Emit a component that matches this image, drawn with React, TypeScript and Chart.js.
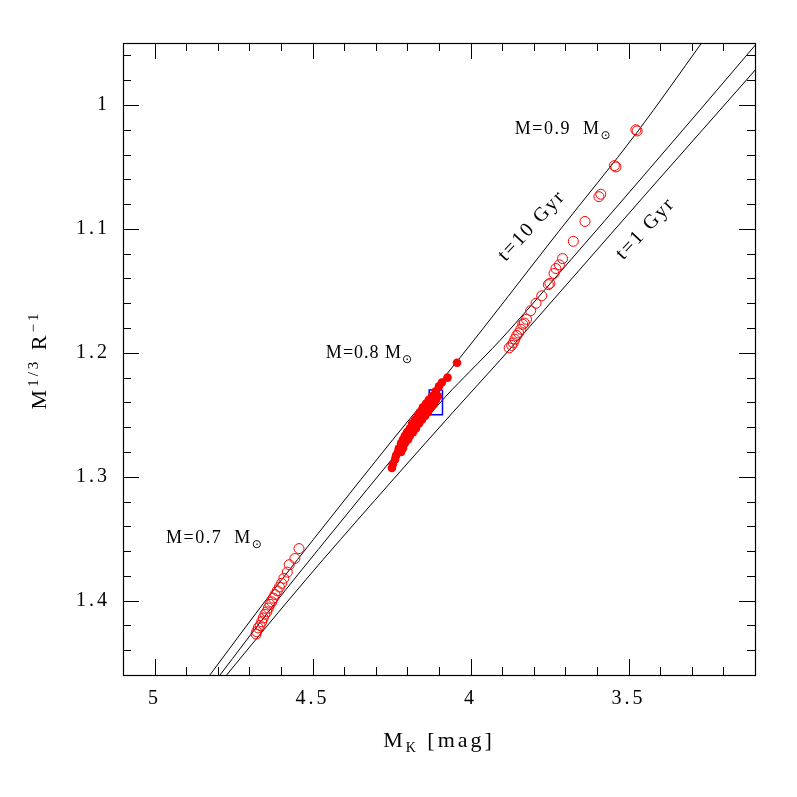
import React, { useEffect, useRef } from "react";
import { Chart, registerables } from "chart.js";
Chart.register(...registerables);

// ---------- data ----------
const xTickValues = [5, 4.5, 4, 3.5];
const yTickValues = [1, 1.1, 1.2, 1.3, 1.4];

// isochrone t = 10 Gyr
const iso10MK = [3.238, 3.269, 3.473, 3.721, 4.043, 4.246, 4.449, 4.646, 4.825, 4.86];
const iso10Y = [0.939, 0.95, 1.022, 1.102, 1.207, 1.27, 1.335, 1.399, 1.46, 1.472];

// intermediate isochrone
const isoMidMK = [3.067, 3.1, 3.432, 3.717, 3.907, 4.002, 4.078, 4.223, 4.432, 4.634, 4.793, 4.829];
const isoMidY = [0.942, 0.952, 1.051, 1.135, 1.19, 1.215, 1.235, 1.278, 1.343, 1.407, 1.46, 1.472];

// isochrone t = 1 Gyr
const iso1MK = [3.015, 3.1, 3.432, 3.717, 3.907, 4.056, 4.303, 4.521, 4.772, 4.81];
const iso1Y = [0.947, 0.972, 1.068, 1.151, 1.206, 1.248, 1.319, 1.383, 1.46, 1.472];

// filled red points
const filledMK = [4.043, 4.073, 4.091, 4.1, 4.11, 4.122, 4.103, 4.132, 4.11, 4.141, 4.116, 4.151, 4.125, 4.16, 4.135, 4.167, 4.144, 4.176, 4.154, 4.185, 4.163, 4.192, 4.173, 4.201, 4.182, 4.208, 4.192, 4.214, 4.198, 4.22, 4.208, 4.227, 4.214, 4.23, 4.22, 4.236, 4.239, 4.246, 4.249];
const filledY = [1.208, 1.22, 1.224, 1.227, 1.231, 1.235, 1.235, 1.238, 1.238, 1.241, 1.241, 1.244, 1.244, 1.248, 1.248, 1.251, 1.251, 1.254, 1.254, 1.257, 1.257, 1.261, 1.261, 1.264, 1.264, 1.267, 1.267, 1.27, 1.27, 1.273, 1.273, 1.277, 1.277, 1.28, 1.28, 1.283, 1.286, 1.29, 1.293];

// open red circles, upper group (near 0.9 Msun)
const openUpMK = [3.473, 3.477, 3.54, 3.545, 3.588, 3.594, 3.638, 3.675, 3.709, 3.719, 3.73, 3.736, 3.749, 3.754, 3.775, 3.793, 3.81, 3.823, 3.83, 3.835, 3.841, 3.848, 3.854, 3.86, 3.865, 3.87, 3.878];
const openUpY = [1.021, 1.02, 1.05, 1.049, 1.072, 1.074, 1.094, 1.11, 1.124, 1.129, 1.132, 1.136, 1.144, 1.145, 1.154, 1.16, 1.166, 1.173, 1.176, 1.177, 1.181, 1.184, 1.186, 1.189, 1.192, 1.194, 1.196];

// open red circles, lower group (near 0.7 Msun)
const openLowMK = [4.543, 4.556, 4.574, 4.58, 4.591, 4.598, 4.605, 4.612, 4.619, 4.624, 4.629, 4.635, 4.64, 4.645, 4.651, 4.656, 4.661, 4.666, 4.672, 4.677, 4.679];
const openLowY = [1.358, 1.366, 1.371, 1.377, 1.382, 1.386, 1.389, 1.392, 1.395, 1.398, 1.401, 1.403, 1.406, 1.409, 1.411, 1.414, 1.417, 1.42, 1.422, 1.425, 1.427];

// blue box
const boxMK = [4.089, 4.131];
const boxY = [1.23, 1.25];

// text labels: [text, MK, Y, letter spacing]
const massLabels: [string, number, number, number][] = [
  ["M=0.9  M", 3.86, 1.0184, 1.5],
  ["M=0.8 M", 4.458, 1.1991, 1],
  ["M=0.7  M", 4.964, 1.3485, 1.5],
];
const ageLabels: [string, number, number][] = [
  ["t=10 Gyr", 3.806, 1.0975],
  ["t=1 Gyr", 3.446, 1.0999],
];

const toPts = (xs: number[], ys: number[]) => xs.map((x, i) => ({ x, y: ys[i] }));

const SERIF = "'Liberation Serif', 'DejaVu Serif', serif";

function drawParts(ctx: CanvasRenderingContext2D, parts: { t: string; size: number; dy: number; font?: string }[], x: number, y: number, center: boolean) {
  let total = 0;
  for (const p of parts) {
    ctx.font = `${p.size}px ${p.font || SERIF}`;
    total += ctx.measureText(p.t).width;
  }
  let cx = center ? x - total / 2 : x;
  for (const p of parts) {
    ctx.font = `${p.size}px ${p.font || SERIF}`;
    ctx.fillText(p.t, cx, y + p.dy);
    cx += ctx.measureText(p.t).width;
  }
}

const framePlugin = {
  id: "frameAndText",
  beforeDraw(chart: any) {
    (chart.ctx as any).letterSpacing = "3px";
  },
  afterDraw(chart: any) {
    const ctx: CanvasRenderingContext2D = chart.ctx;
    const { left, right, top, bottom } = chart.chartArea;
    const xs = chart.scales.x;
    const ys = chart.scales.y;
    ctx.save();
    ctx.strokeStyle = "#000";
    ctx.lineWidth = 1.2;
    ctx.strokeRect(left + 0.5, top + 0.5, right - left, bottom - top);
    ctx.lineWidth = 1;
    ctx.beginPath();
    for (let i = 32; i <= 50; i++) {
      const v = i / 10;
      const px = Math.round(xs.getPixelForValue(v)) + 0.5;
      const len = i % 5 === 0 ? 16 : 8;
      ctx.moveTo(px, bottom);
      ctx.lineTo(px, bottom - len);
      ctx.moveTo(px, top);
      ctx.lineTo(px, top + len);
    }
    for (let i = 48; i <= 72; i++) {
      const v = i / 50;
      const py = Math.round(ys.getPixelForValue(v)) + 0.5;
      const len = i % 5 === 0 ? 16 : 8;
      ctx.moveTo(left, py);
      ctx.lineTo(left + len, py);
      ctx.moveTo(right, py);
      ctx.lineTo(right - len, py);
    }
    ctx.stroke();

    ctx.fillStyle = "#000";
    ctx.textBaseline = "alphabetic";
    ctx.textAlign = "left";
    for (const [t, mk, yv, sp] of massLabels) {
      (ctx as any).letterSpacing = `${sp}px`;
      const px = xs.getPixelForValue(mk);
      const py = ys.getPixelForValue(yv) + 6;
      drawParts(ctx, [
        { t, size: 18, dy: 0 },
        { t: "⊙", size: 12, dy: 5, font: "'DejaVu Sans', sans-serif" },
      ], px, py, false);
    }
    (ctx as any).letterSpacing = "2px";
    for (const [t, mk, yv] of ageLabels) {
      const px = xs.getPixelForValue(mk);
      const py = ys.getPixelForValue(yv);
      ctx.save();
      ctx.translate(px, py);
      ctx.rotate(-47 * Math.PI / 180);
      ctx.font = `20px ${SERIF}`;
      ctx.textAlign = "center";
      ctx.textBaseline = "middle";
      ctx.fillText(t, 0, 0);
      ctx.restore();
    }
    // axis titles
    ctx.textAlign = "left";
    ctx.textBaseline = "alphabetic";
    (ctx as any).letterSpacing = "3px";
    const cxTitle = (left + right) / 2;
    drawParts(ctx, [
      { t: "M", size: 22, dy: 0 },
      { t: "K", size: 14, dy: 5 },
      { t: " [mag]", size: 22, dy: 0 },
    ], cxTitle, 747, true);
    ctx.save();
    ctx.translate(46, (top + bottom) / 2 + 1);
    ctx.rotate(-Math.PI / 2);
    drawParts(ctx, [
      { t: "M", size: 22, dy: 0 },
      { t: "1/3", size: 15, dy: -8 },
      { t: " R", size: 22, dy: 0 },
      { t: "−1", size: 15, dy: -8 },
    ], 0, 0, true);
    ctx.restore();
    ctx.restore();
  },
};

export default function App() {
  const ref = useRef<HTMLCanvasElement | null>(null);
  useEffect(() => {
    if (!ref.current) return;
    const lineDs = (xs: number[], ys: number[]) => ({
      type: "line" as const,
      data: toPts(xs, ys),
      showLine: true,
      borderColor: "#000",
      borderWidth: 1,
      pointRadius: 0,
      fill: false,
      cubicInterpolationMode: "monotone" as const,
      order: 2,
    });
    const chart = new Chart(ref.current, {
      type: "scatter",
      data: {
        datasets: [
          {
            data: toPts(filledMK, filledY),
            pointRadius: 4.3,
            backgroundColor: "#ff0000",
            borderColor: "#ff0000",
            borderWidth: 0,
            order: 0,
          },
          {
            data: toPts(openUpMK, openUpY),
            pointRadius: 5,
            backgroundColor: "rgba(0,0,0,0)",
            borderColor: "#ff0000",
            borderWidth: 1,
            order: 0,
          },
          {
            data: toPts(openLowMK, openLowY),
            pointRadius: 5,
            backgroundColor: "rgba(0,0,0,0)",
            borderColor: "#ff0000",
            borderWidth: 1,
            order: 0,
          },
          {
            type: "line",
            data: [
              { x: boxMK[0], y: boxY[0] },
              { x: boxMK[1], y: boxY[0] },
              { x: boxMK[1], y: boxY[1] },
              { x: boxMK[0], y: boxY[1] },
              { x: boxMK[0], y: boxY[0] },
            ],
            showLine: true,
            borderColor: "#0000ff",
            borderWidth: 1.5,
            pointRadius: 0,
            tension: 0,
            order: 1,
          } as any,
          lineDs(iso10MK, iso10Y) as any,
          lineDs(isoMidMK, isoMidY) as any,
          lineDs(iso1MK, iso1Y) as any,
        ],
      },
      options: {
        animation: false,
        responsive: true,
        maintainAspectRatio: false,
        layout: { padding: { top: 43, right: 42, left: 0, bottom: 0 } },
        plugins: { legend: { display: false }, tooltip: { enabled: false } },
        scales: {
          x: {
            type: "linear",
            min: 3.1,
            max: 5.1,
            reverse: true,
            afterBuildTicks: (s: any) => {
              s.ticks = xTickValues.map((v) => ({ value: v }));
            },
            afterFit: (s: any) => {
              s.height = 122;
            },
            grid: { display: false, drawTicks: false },
            border: { display: false },
            ticks: {
              padding: 12,
              color: "#000",
              maxRotation: 0,
              autoSkip: false,
              font: { family: SERIF, size: 20 },
              callback: (v: any) => String(v),
            },
          },
          y: {
            type: "linear",
            min: 0.95,
            max: 1.46,
            reverse: true,
            afterBuildTicks: (s: any) => {
              s.ticks = yTickValues.map((v) => ({ value: v }));
            },
            afterFit: (s: any) => {
              s.width = 123;
            },
            grid: { display: false, drawTicks: false },
            border: { display: false },
            ticks: {
              padding: 13,
              color: "#000",
              autoSkip: false,
              font: { family: SERIF, size: 20 },
              callback: (v: any) => String(v),
            },
          },
        },
      },
      plugins: [framePlugin],
    });
    return () => chart.destroy();
  }, []);
  return (
    <div style={{ position: "absolute", left: 0, top: 0, width: 797, height: 797, background: "#fff" }}>
      <canvas ref={ref} />
    </div>
  );
}
